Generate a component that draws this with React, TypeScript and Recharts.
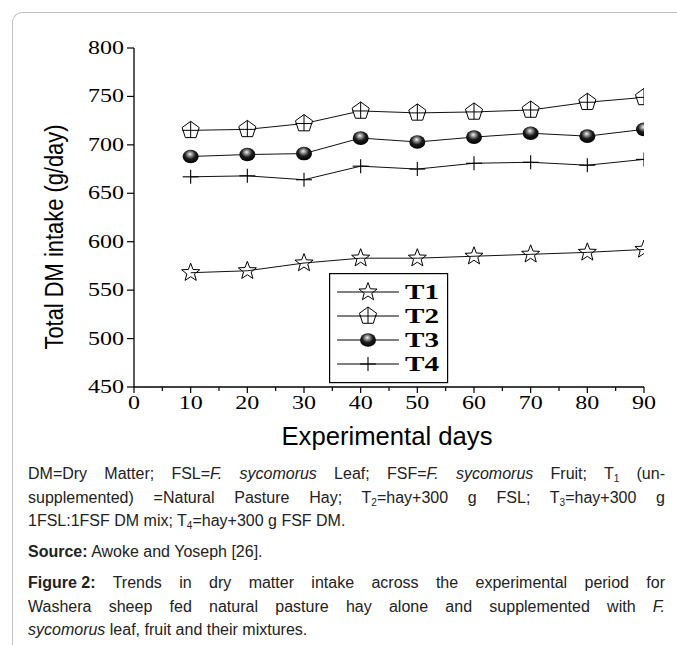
import { LineChart, Line, XAxis, YAxis, Legend } from 'recharts';

// Total DM intake (g/day)
const days = [10, 20, 30, 40, 50, 60, 70, 80, 90];
const t1 = [568, 570, 578, 583, 583, 585, 587, 589, 592];
const t2 = [715, 716, 722, 735, 733, 734, 736, 744, 749];
const t3 = [688, 690, 691, 707, 703, 708, 712, 709, 716];
const t4 = [667, 668, 664, 678, 675, 681, 682, 679, 685];
const seriesNames = ['T1', 'T2', 'T3', 'T4'];

const xTicks = [0, 5, 10, 15, 20, 25, 30, 35, 40, 45, 50, 55, 60, 65, 70, 75, 80, 85, 90];
const yTicks = [450, 500, 550, 600, 650, 700, 750, 800];

const rows = days.map((d, i) => ({ day: d, T1: t1[i], T2: t2[i], T3: t3[i], T4: t4[i] }));

const SERIF = '"Liberation Serif", "Times New Roman", serif';
const SANS = '"Liberation Sans", Arial, sans-serif';

function starPoints(cx: number, cy: number, ro: number, ri: number) {
  const pts: string[] = [];
  for (let k = 0; k < 10; k++) {
    const r = k % 2 === 0 ? ro : ri;
    const a = -Math.PI / 2 + (k * Math.PI) / 5;
    pts.push(`${cx + r * Math.cos(a)},${cy + r * Math.sin(a)}`);
  }
  return pts.join(' ');
}

function pentaPoints(cx: number, cy: number, r: number) {
  const pts: string[] = [];
  for (let k = 0; k < 5; k++) {
    const a = -Math.PI / 2 + (k * 2 * Math.PI) / 5;
    pts.push(`${cx + r * Math.cos(a)},${cy + r * Math.sin(a)}`);
  }
  return pts.join(' ');
}

// marker shapes, shared by the lines and the legend
function Marker({ kind, cx, cy, grad }: { kind: string; cx: number; cy: number; grad: string }) {
  if (kind === 'T1') {
    return <polygon points={starPoints(cx, cy, 9.5, 4)} fill="none" stroke="#000" strokeWidth={1} />;
  }
  if (kind === 'T2') {
    return (
      <g>
        <polygon points={pentaPoints(cx, cy, 9)} fill="#fff" stroke="#000" strokeWidth={1} />
        <line x1={cx} x2={cx} y1={cy - 9} y2={cy + 7.3} stroke="#000" strokeWidth={1} />
        <line x1={cx - 8.5} x2={cx + 8.5} y1={cy} y2={cy} stroke="#000" strokeWidth={1} />
      </g>
    );
  }
  if (kind === 'T3') {
    return <ellipse cx={cx} cy={cy} rx={8} ry={6.8} fill={`url(#${grad})`} />;
  }
  return (
    <g>
      <line x1={cx} x2={cx} y1={cy - 7} y2={cy + 7} stroke="#000" strokeWidth={1.1} />
      <line x1={cx - 8} x2={cx + 8} y1={cy} y2={cy} stroke="#000" strokeWidth={1.1} />
    </g>
  );
}

function SphereGrad({ id }: { id: string }) {
  return (
    <radialGradient id={id} cx="0.48" cy="0.38" r="0.62" fx="0.45" fy="0.32">
      <stop offset="0" stopColor="#f4f4f4" />
      <stop offset="0.22" stopColor="#9a9a9a" />
      <stop offset="0.55" stopColor="#1c1c1c" />
      <stop offset="1" stopColor="#000" />
    </radialGradient>
  );
}

function XTick(props: any) {
  const { x, y, payload } = props;
  const axisY = y - 10; // tickSize 6 + tickMargin 4
  const v = payload.value as number;
  const major = v % 10 === 0;
  return (
    <g>
      <line x1={x} x2={x} y1={axisY} y2={axisY + (major ? 6 : 4)} stroke="#000" strokeWidth={1.2} />
      {major && (
        <text
          x={x}
          y={axisY + 22}
          textAnchor="middle"
          fontFamily={SERIF}
          fontSize={19}
          fill="#000"
          textLength={String(v).length * 12}
          lengthAdjust="spacingAndGlyphs"
        >
          {v}
        </text>
      )}
    </g>
  );
}

function YTick(props: any) {
  const { x, y, payload } = props;
  return (
    <text
      x={x}
      y={y + 6}
      textAnchor="end"
      fontFamily={SERIF}
      fontSize={19}
      fill="#000"
      textLength={String(payload.value).length * 12}
      lengthAdjust="spacingAndGlyphs"
    >
      {payload.value}
    </text>
  );
}

function LegendBox() {
  const rowY = [19, 43, 67, 91];
  return (
    <svg width={120} height={111} style={{ display: 'block' }}>
      <defs>
        <SphereGrad id="sphereLegend" />
      </defs>
      <rect x={0.6} y={0.6} width={118} height={109} fill="#fff" stroke="#000" strokeWidth={1.2} />
      {seriesNames.map((name, i) => (
        <g key={name}>
          <line x1={8} x2={70} y1={rowY[i]} y2={rowY[i]} stroke="#000" strokeWidth={1} />
          <Marker kind={name} cx={39} cy={rowY[i]} grad="sphereLegend" />
          <text
            x={76}
            y={rowY[i] + 7}
            fontFamily={SERIF}
            fontWeight="bold"
            fontSize={20}
            fill="#000"
            textLength={34}
            lengthAdjust="spacingAndGlyphs"
          >
            {name}
          </text>
        </g>
      ))}
    </svg>
  );
}

const justify: React.CSSProperties = { textAlign: 'justify', textAlignLast: 'justify', textJustify: 'inter-word' };
const sub: React.CSSProperties = { fontSize: 10, verticalAlign: -3, lineHeight: 0 };

export default function App() {
  return (
    <div
      style={{
        position: 'absolute',
        left: 0,
        top: 0,
        width: 677,
        height: 645,
        background: '#fff',
        overflow: 'hidden',
      }}
    >
      <div
        style={{
          position: 'absolute',
          left: 12,
          top: 12,
          width: 720,
          height: 720,
          borderLeft: '1.5px solid #c2c2c2',
          borderTop: '1.5px solid #c2c2c2',
          borderTopLeftRadius: 10,
        }}
      />
      <div style={{ position: 'absolute', left: 0, top: 0 }}>
        <LineChart width={677} height={420} data={rows} margin={{ top: 48, right: 33, bottom: 3, left: 74 }}>
          <defs>
            <SphereGrad id="sphereDot" />
          </defs>
          <XAxis
            dataKey="day"
            type="number"
            domain={[0, 90]}
            ticks={xTicks}
            interval={0}
            allowDataOverflow
            height={30}
            tickSize={6}
            tickMargin={4}
            tickLine={false}
            axisLine={{ stroke: '#000', strokeWidth: 1.3 }}
            tick={<XTick />}
          />
          <YAxis
            type="number"
            domain={[450, 800]}
            ticks={yTicks}
            interval={0}
            width={60}
            tickSize={7}
            tickMargin={3}
            tickLine={{ stroke: '#000', strokeWidth: 1.2 }}
            axisLine={{ stroke: '#000', strokeWidth: 1.3 }}
            tick={<YTick />}
          />
          <Legend
            layout="vertical"
            align="center"
            verticalAlign="middle"
            wrapperStyle={{ position: 'absolute', left: 329, top: 273, width: 120, height: 111 }}
            content={() => <LegendBox />}
          />
          {seriesNames.map((name) => (
            <Line
              key={name}
              dataKey={name}
              stroke="#111"
              strokeWidth={1}
              isAnimationActive={false}
              activeDot={false}
              dot={(p: any) => (
                <Marker key={`${name}-${p.index}`} kind={name} cx={p.cx} cy={p.cy} grad="sphereDot" />
              )}
            />
          ))}
        </LineChart>
      </div>
      <svg width={677} height={460} style={{ position: 'absolute', left: 0, top: 0, pointerEvents: 'none' }}>
        <text
          transform="translate(63,237) rotate(-90)"
          textAnchor="middle"
          fontFamily={SANS}
          fontSize={25}
          fill="#000"
          textLength={225}
          lengthAdjust="spacingAndGlyphs"
        >
          Total DM intake (g/day)
        </text>
        <text
          x={387}
          y={445}
          textAnchor="middle"
          fontFamily={SANS}
          fontSize={25}
          fill="#000"
          textLength={211}
          lengthAdjust="spacingAndGlyphs"
        >
          Experimental days
        </text>
      </svg>
      <div
        style={{
          position: 'absolute',
          left: 28,
          top: 462,
          width: 637,
          fontFamily: SANS,
          fontSize: 16,
          lineHeight: '23.5px',
          color: '#222',
        }}
      >
        <div style={justify}>
          DM=Dry Matter; FSL=<i>F. sycomorus</i> Leaf; FSF=<i>F. sycomorus</i> Fruit; T<span style={sub}>1</span> (un-
        </div>
        <div style={justify}>
          supplemented) =Natural Pasture Hay; T<span style={sub}>2</span>=hay+300 g FSL; T<span style={sub}>3</span>
          =hay+300 g
        </div>
        <div>
          1FSL:1FSF DM mix; T<span style={sub}>4</span>=hay+300 g FSF DM.
        </div>
        <div style={{ marginTop: 7 }}>
          <b>Source:</b> Awoke and Yoseph [26].
        </div>
        <div style={{ marginTop: 8, ...justify }}>
          <b style={{ display: 'inline-block' }}>Figure 2:</b> Trends in dry matter intake across the experimental
          period for
        </div>
        <div style={justify}>
          Washera sheep fed natural pasture hay alone and supplemented with <i>F.</i>
        </div>
        <div>
          <i>sycomorus</i> leaf, fruit and their mixtures.
        </div>
      </div>
    </div>
  );
}
